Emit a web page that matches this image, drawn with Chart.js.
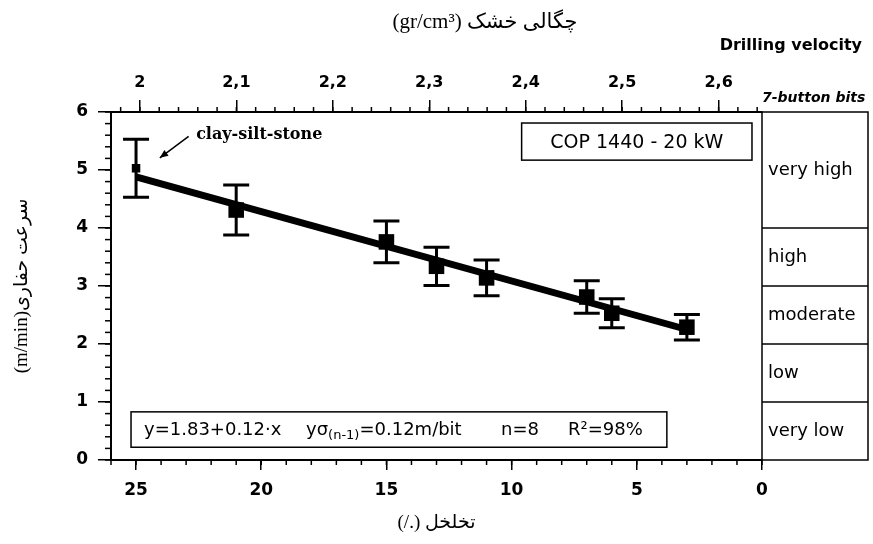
<!DOCTYPE html>
<html>
<head>
<meta charset="utf-8">
<script src="https://cdn.jsdelivr.net/npm/chart.js@4.4.0/dist/chart.umd.min.js"></script>
<style>
  html, body { margin: 0; padding: 0; background: #fff; }
  #wrap { width: 873px; height: 544px; }
</style>
</head>
<body>
<div id="wrap"><canvas id="chart" width="873" height="544"></canvas></div>
<script>
// porosity (%) against drilling rate (m/min), COP 1440 with 7-button bits
const porosity = [25, 21, 15, 13, 11, 7, 6, 3];
const velocity = [5.03, 4.31, 3.76, 3.34, 3.14, 2.81, 2.53, 2.29];
const velocityErr = [0.50, 0.43, 0.36, 0.33, 0.31, 0.28, 0.25, 0.22];

// fitted line, end points
const fitX = [25, 3];
const fitY = [4.88, 2.25];

// tick labels
const porosityTicks = [0, 5, 10, 15, 20, 25];
const densityTicks = [2, 2.1, 2.2, 2.3, 2.4, 2.5, 2.6];
const velocityTicks = [0, 1, 2, 3, 4, 5, 6];

// drilling velocity classes (right hand table)
const rateClasses = ['very high', 'high', 'moderate', 'low', 'very low'];
const classBounds = [6, 4, 3, 2, 1, 0];

const RLE = '\u202B', PDF = '\u202C';
const sans = "'DejaVu Sans', sans-serif";
const serif = "'Liberation Serif', 'DejaVu Sans', serif";
const tickFont = { family: sans, size: 17, weight: 'bold' };

const setTicks = (list) => (scale) => { scale.ticks = list.map(v => ({ value: v })); };

// small ticks between the labelled ones
const minorTicks = {
    id: 'minorTicks',
    afterDraw(chart) {
        const { ctx, chartArea: a, scales } = chart;
        ctx.save();
        ctx.strokeStyle = '#000';
        ctx.lineWidth = 1.5;
        const draw = (scale, step, len) => {
            const i0 = Math.ceil(scale.min / step - 1e-6);
            const i1 = Math.floor(scale.max / step + 1e-6);
            for (let i = i0; i <= i1; i++) {
                const p = scale.getPixelForValue(i * step);
                ctx.beginPath();
                if (scale.axis === 'y') {
                    ctx.moveTo(a.left - len, p); ctx.lineTo(a.left, p);
                } else if (scale.position === 'top') {
                    ctx.moveTo(p, a.top - len); ctx.lineTo(p, a.top);
                } else {
                    ctx.moveTo(p, a.bottom); ctx.lineTo(p, a.bottom + len);
                }
                ctx.stroke();
            }
        };
        draw(scales.x, 1, 5);
        draw(scales.x2, 0.02, 5);
        draw(scales.y, 0.2, 6);
        ctx.restore();
    }
};

const errorBars = {
    id: 'errorBars',
    afterDatasetsDraw(chart) {
        const { ctx, scales: { x, y } } = chart;
        ctx.save();
        ctx.strokeStyle = '#000';
        ctx.lineWidth = 3;
        porosity.forEach((px, i) => {
            const cx = x.getPixelForValue(px);
            const top = y.getPixelForValue(velocity[i] + velocityErr[i]);
            const bot = y.getPixelForValue(velocity[i] - velocityErr[i]);
            ctx.beginPath();
            ctx.moveTo(cx, top); ctx.lineTo(cx, bot);
            ctx.moveTo(cx - 13, top); ctx.lineTo(cx + 13, top);
            ctx.moveTo(cx - 13, bot); ctx.lineTo(cx + 13, bot);
            ctx.stroke();
        });
        ctx.restore();
    }
};

const rateTable = {
    id: 'rateTable',
    afterDraw(chart) {
        const { ctx, chartArea: a, scales: { y } } = chart;
        const left = a.right, right = a.right + 106;
        ctx.save();
        ctx.strokeStyle = '#000';
        ctx.lineWidth = 1.5;
        ctx.strokeRect(left, a.top, right - left, a.bottom - a.top);
        ctx.fillStyle = '#000';
        ctx.textBaseline = 'middle';
        ctx.textAlign = 'left';
        ctx.font = '18px ' + sans;
        rateClasses.forEach((name, i) => {
            const t = y.getPixelForValue(classBounds[i]);
            const b = y.getPixelForValue(classBounds[i + 1]);
            if (i > 0) {
                ctx.beginPath(); ctx.moveTo(left, t); ctx.lineTo(right, t); ctx.stroke();
            }
            ctx.fillText(name, left + 6, (t + b) / 2);
        });

        ctx.font = 'italic bold 14px ' + sans;
        ctx.fillText('7-button bits', left, a.top - 14);
        ctx.font = 'bold 16px ' + sans;
        ctx.textAlign = 'right';
        ctx.fillText('Drilling velocity', 862, 46);

        ctx.direction = 'rtl';
        ctx.textAlign = 'center';
        ctx.font = '21px ' + serif;
        ctx.fillText('چگالی خشک (gr/cm³)', 485, 22);
        ctx.restore();
    }
};

const notes = {
    id: 'notes',
    afterDraw(chart) {
        const { ctx, scales: { x, y } } = chart;
        ctx.save();
        ctx.strokeStyle = '#000';
        ctx.fillStyle = '#000';
        ctx.lineWidth = 1.5;

        // COP box
        let l = x.getPixelForValue(9.6), r = x.getPixelForValue(0.4);
        let t = y.getPixelForValue(5.81), b = y.getPixelForValue(5.17);
        ctx.strokeRect(l, t, r - l, b - t);
        ctx.font = '19px ' + sans;
        ctx.textAlign = 'center';
        ctx.textBaseline = 'middle';
        ctx.fillText('COP 1440 - 20 kW', (l + r) / 2, (t + b) / 2 + 1);

        // regression box
        l = x.getPixelForValue(25.2); r = x.getPixelForValue(3.8);
        t = y.getPixelForValue(0.83); b = y.getPixelForValue(0.22);
        ctx.strokeRect(l, t, r - l, b - t);
        const mid = (t + b) / 2 + 1;
        ctx.textAlign = 'left';
        ctx.font = '18px ' + sans;
        ctx.fillText('y=1.83+0.12·x', l + 13, mid);
        let cx = l + 175;
        ctx.fillText('yσ', cx, mid);
        cx += ctx.measureText('yσ').width;
        ctx.font = '13px ' + sans;
        ctx.fillText('(n-1)', cx, mid + 5);
        cx += ctx.measureText('(n-1)').width;
        ctx.font = '18px ' + sans;
        ctx.fillText('=0.12m/bit', cx, mid);
        ctx.fillText('n=8', l + 370, mid);
        ctx.fillText('R²=98%', l + 437, mid);

        // clay-silt-stone label and arrow
        ctx.font = 'bold 16px ' + "'DejaVu Serif', serif";
        ctx.fillText('clay-silt-stone', x.getPixelForValue(22.6), y.getPixelForValue(5.6));
        const ax = x.getPixelForValue(22.9), ay = y.getPixelForValue(5.58);
        const hx = x.getPixelForValue(24.05), hy = y.getPixelForValue(5.21);
        ctx.beginPath(); ctx.moveTo(ax, ay); ctx.lineTo(hx, hy); ctx.stroke();
        const ang = Math.atan2(hy - ay, hx - ax);
        ctx.beginPath();
        ctx.moveTo(hx, hy);
        ctx.lineTo(hx - 9 * Math.cos(ang - 0.4), hy - 9 * Math.sin(ang - 0.4));
        ctx.lineTo(hx - 9 * Math.cos(ang + 0.4), hy - 9 * Math.sin(ang + 0.4));
        ctx.closePath();
        ctx.fill();
        ctx.restore();
    }
};

const axisGrid = (len) => ({ drawOnChartArea: false, color: '#000', lineWidth: 1.5, tickLength: len });
const axisBorder = { color: '#000', width: 2 };

new Chart(document.getElementById('chart'), {
    type: 'scatter',
    data: {
        datasets: [
            {
                data: porosity.map((p, i) => ({ x: p, y: velocity[i] })),
                backgroundColor: '#000',
                borderColor: '#000',
                pointStyle: 'rect',
                pointRadius: porosity.map((p, i) => (i === 0 ? 6 : 11)),
                borderWidth: 0,
            },
            {
                data: fitX.map((p, i) => ({ x: p, y: fitY[i] })),
                showLine: true,
                borderColor: '#000',
                borderWidth: 7,
                pointRadius: 0,
            },
        ],
    },
    options: {
        responsive: false,
        animation: false,
        layout: { padding: { right: 111 } },
        plugins: { legend: { display: false }, tooltip: { enabled: false } },
        scales: {
            x: {
                type: 'linear',
                position: 'bottom',
                min: 0,
                max: 26,
                reverse: true,
                afterBuildTicks: setTicks(porosityTicks),
                afterFit: (s) => { s.height = 84; },
                grid: axisGrid(10),
                border: axisBorder,
                ticks: { color: '#000', font: tickFont, padding: 10, maxRotation: 0 },
                title: {
                    display: true,
                    text: RLE + 'تخلخل (./)' + PDF,
                    color: '#000',
                    font: { family: serif, size: 19 },
                    padding: { top: 0, bottom: 10 },
                },
            },
            x2: {
                type: 'linear',
                position: 'top',
                min: 1.97,
                max: 2.645,
                afterBuildTicks: setTicks(densityTicks),
                afterFit: (s) => { s.height = 112; },
                grid: axisGrid(12),
                border: axisBorder,
                ticks: {
                    color: '#000',
                    font: { family: sans, size: 16, weight: 'bold' },
                    padding: 8,
                    maxRotation: 0,
                    callback: (v) => String(Math.round(v * 10) / 10).replace('.', ','),
                },
            },
            y: {
                type: 'linear',
                min: 0,
                max: 6,
                afterBuildTicks: setTicks(velocityTicks),
                afterFit: (s) => { s.width = 111; },
                grid: axisGrid(13),
                border: axisBorder,
                ticks: { color: '#000', font: tickFont, padding: 10 },
                title: {
                    display: true,
                    text: RLE + 'سرعت حفاری(m/min)' + PDF,
                    color: '#000',
                    font: { family: serif, size: 19 },
                    padding: { top: 11, bottom: 0 },
                },
            },
        },
    },
    plugins: [minorTicks, errorBars, rateTable, notes],
});
</script>
</body>
</html>
